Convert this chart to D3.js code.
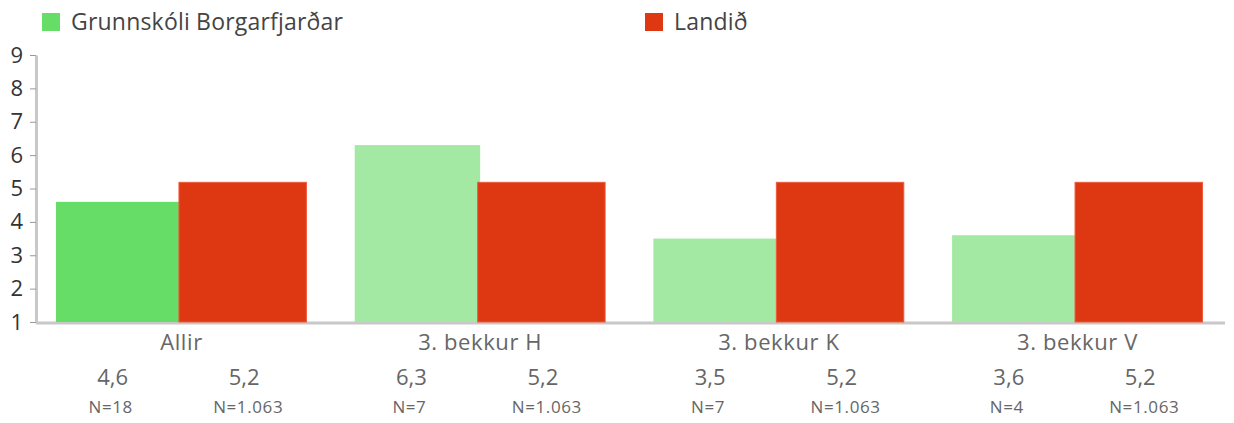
<!DOCTYPE html>
<html>
<head>
<meta charset="utf-8">
<script src="https://cdn.jsdelivr.net/npm/d3@7"></script>
<style>
  body { margin: 0; background: #fff; }
  text { font-family: "Open Sans", sans-serif; }
</style>
</head>
<body>
<script>
var width = 1234;
var height = 423;

var categories = ["Allir", "3. bekkur H", "3. bekkur K", "3. bekkur V"];
var seriesNames = ["Grunnskóli Borgarfjarðar", "Landið"];
var schoolValues = [4.6, 6.3, 3.5, 3.6];
var nationValues = [5.2, 5.2, 5.2, 5.2];
var schoolN = ["N=18", "N=7", "N=7", "N=4"];
var nationN = ["N=1.063", "N=1.063", "N=1.063", "N=1.063"];
var yTicks = [1, 2, 3, 4, 5, 6, 7, 8, 9];

var red = "#dd3812";
var green = "#66dd66";
var lightGreen = "#a3e9a3";

var fmt = function(v){ return d3.format(".1f")(v).replace(".", ","); };

var svg = d3.select("body").append("svg")
  .attr("width", width)
  .attr("height", height);

var x0 = d3.scaleBand()
  .domain(categories)
  .range([36, 1223])
  .paddingInner(0.16)
  .paddingOuter(0.067);

var x1 = d3.scaleBand()
  .domain([0, 1])
  .range([0, x0.bandwidth()]);

var y = d3.scaleLinear()
  .domain([1, 9])
  .range([322, 55]);

// y axis
var yAxis = svg.append("g")
  .attr("transform", "translate(36,0)")
  .call(d3.axisLeft(y).tickValues(yTicks).tickSize(6).tickSizeOuter(0).tickPadding(7));
yAxis.select(".domain").attr("stroke", "#c8c8c8").attr("stroke-width", 3);
yAxis.selectAll(".tick line").attr("stroke", "#999");
yAxis.selectAll(".tick text")
  .attr("font-size", 22)
  .attr("fill", "#333")
  .style("font-family", "'Open Sans', sans-serif");

// baseline
svg.append("line")
  .attr("x1", 36).attr("x2", 1225)
  .attr("y1", 323).attr("y2", 323)
  .attr("stroke", "#c8c8c8")
  .attr("stroke-width", 3);

var groups = svg.selectAll(".grp")
  .data(categories)
  .enter()
  .append("g")
  .attr("class", "grp")
  .attr("transform", function(d){ return "translate(" + x0(d) + ",0)"; });

groups.append("rect")
  .attr("x", x1(0))
  .attr("width", x1.bandwidth())
  .attr("y", function(d, i){ return y(schoolValues[i]); })
  .attr("height", function(d, i){ return y(1) - y(schoolValues[i]); })
  .attr("fill", function(d, i){ return i == 0 ? green : lightGreen; });

groups.append("rect")
  .attr("x", x1(1) - 2.5)
  .attr("width", x1.bandwidth() + 2)
  .attr("y", function(d, i){ return y(nationValues[i]) + 0.5; })
  .attr("height", function(d, i){ return y(1) - y(nationValues[i]) - 0.5; })
  .attr("fill", red)
  .attr("stroke", "#ee5a3c")
  .attr("stroke-width", 1);

// category labels
groups.append("text")
  .attr("x", x0.bandwidth() / 2)
  .attr("y", 350)
  .attr("text-anchor", "middle")
  .attr("font-size", 22)
  .attr("letter-spacing", 0.6)
  .attr("fill", "#666")
  .text(function(d){ return d; });

// value labels
var vals = [schoolValues, nationValues];
var ns = [schoolN, nationN];
[0, 1].forEach(function(s){
  groups.append("text")
    .attr("x", x1(s) + x1.bandwidth() / 2 - (s == 0 ? 6 : 0))
    .attr("y", 385)
    .attr("text-anchor", "middle")
    .attr("font-size", 22)
    .attr("fill", "#666")
    .text(function(d, i){ return fmt(vals[s][i]); });
  groups.append("text")
    .attr("x", x1(s) + x1.bandwidth() / 2 - (s == 0 ? 8 : -4))
    .attr("y", 413)
    .attr("text-anchor", "middle")
    .attr("font-size", 17)
    .attr("letter-spacing", 0.6)
    .attr("fill", "#666")
    .text(function(d, i){ return ns[s][i]; });
});

// legend
var legendX = [42, 645];
var legendColors = [green, red];
var legend = svg.selectAll(".leg")
  .data(seriesNames)
  .enter()
  .append("g")
  .attr("transform", function(d, i){ return "translate(" + legendX[i] + ",13)"; });
legend.append("rect")
  .attr("width", 18).attr("height", 18)
  .attr("fill", function(d, i){ return legendColors[i]; });
legend.append("text")
  .attr("x", 29)
  .attr("y", 17)
  .attr("font-size", 23)
  .attr("letter-spacing", 0.2)
  .attr("fill", "#444")
  .text(function(d){ return d; });
</script>
</body>
</html>
